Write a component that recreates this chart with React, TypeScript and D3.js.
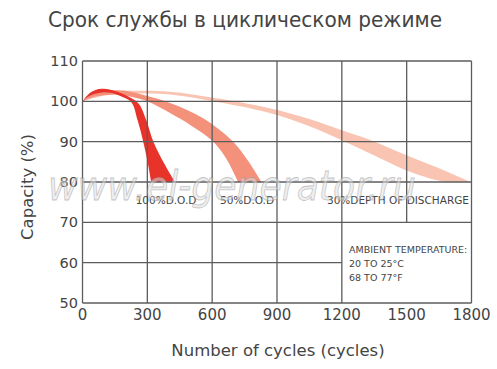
import React from "react";
import * as d3 from "d3";

const title = "Срок службы в циклическом режиме";
const xTicks = [0, 300, 600, 900, 1200, 1500, 1800];
const yTicks = [50, 60, 70, 80, 90, 100, 110];

// band edges: [cycles, capacity %]
const dod100Outer: [number, number][] = [[0, 100], [30, 101.9], [60, 102.8], [90, 103.1], [130, 102.9], [180, 102], [225, 100.8], [262, 99.3], [296, 95.2], [328, 90], [380, 84.4], [428, 80]];
const dod100Inner: [number, number][] = [[0, 100], [40, 101.5], [90, 102.2], [130, 102.1], [175, 101.3], [226, 99.8], [255, 95.3], [281, 90], [301, 85], [318, 80]];
const dod50Outer: [number, number][] = [[0, 100], [50, 101.8], [100, 102.5], [150, 102.75], [200, 102.6], [300, 101.3], [405, 99.6], [558, 95.8], [697, 90], [765, 85.3], [828, 80]];
const dod50Inner: [number, number][] = [[0, 100], [60, 101.2], [150, 101.7], [220, 101.2], [300, 100], [405, 97.1], [500, 94.1], [605, 90], [665, 85.8], [720, 80]];
const dod30Outer: [number, number][] = [[0, 100], [60, 101.8], [120, 102.4], [250, 102.6], [405, 102.4], [605, 100.9], [866, 98.3], [1050, 95.6], [1197, 92.9], [1328, 90.5], [1497, 86.7], [1650, 83.4], [1795, 80]];
const dod30Inner: [number, number][] = [[0, 100], [100, 101.4], [250, 101.9], [405, 101.7], [605, 100], [866, 97.1], [1050, 93.8], [1197, 90.4], [1328, 87.1], [1497, 82.9], [1600, 81], [1682, 80]];

const bandColors = ["#f9c4b2", "#f3917b", "#e8332b"];
const bandLabels = ["30%DEPTH OF DISCHARGE", "50%D.O.D", "100%D.O.D"];
const ambientLines = ["AMBIENT TEMPERATURE:", "20 TO 25°C", "68 TO 77°F"];

const W = 497, H = 369;
const x = d3.scaleLinear().domain([0, 1800]).range([82.5, 471.5]);
const y = d3.scaleLinear().domain([50, 110]).range([303, 61]);

const line = d3.line<[number, number]>().x(d => x(d[0])).y(d => y(d[1])).curve(d3.curveCatmullRom.alpha(0.5));

function bandPath(outer: [number, number][], inner: [number, number][]) {
  const a = line(outer) || "";
  const b = (line([...inner].reverse()) || "").replace(/^M/, "L");
  return a + b + "Z";
}

const font = "'DejaVu Sans', sans-serif";
const txt = "#444";
const grid = "#5c5c5c";

export default function App() {
  const bands = [
    { o: dod30Outer, i: dod30Inner },
    { o: dod50Outer, i: dod50Inner },
    { o: dod100Outer, i: dod100Inner },
  ];
  return (
    <svg width={W} height={H} style={{ position: "absolute", left: 0, top: 0, background: "#fff" }} fontFamily={font}>
      <text x={48} y={27} fontSize={20.5} fill={txt} textLength={394} lengthAdjust="spacingAndGlyphs">{title}</text>
      {bands.map((b, k) => (
        <path key={k} d={bandPath(b.o, b.i)} fill={bandColors[k]} stroke="none" />
      ))}
      <g stroke={grid} strokeWidth={1.3} fill="none">
        {yTicks.map(v => {
          const x2 = v === 60 ? x(1200) : x(1800);
          return <line key={"h" + v} x1={x(0)} x2={x2} y1={y(v)} y2={y(v)} />;
        })}
        {xTicks.map(c => {
          const yb = c === 1500 ? y(70) : y(50);
          return <line key={"v" + c} x1={x(c)} x2={x(c)} y1={y(110)} y2={yb} />;
        })}
      </g>
      {yTicks.map(v => (
        <text key={"yl" + v} x={78} y={y(v) + 5} fontSize={14.5} fill={txt} textAnchor="end">{v}</text>
      ))}
      {xTicks.map(c => (
        <text key={"xl" + c} x={x(c)} y={320} fontSize={15} fill={txt} textAnchor="middle">{c}</text>
      ))}
      <text x={278} y={356} fontSize={16.5} fill={txt} textAnchor="middle">Number of cycles (cycles)</text>
      <text transform="translate(33,187) rotate(-90)" fontSize={16.5} fill={txt} textAnchor="middle">Capacity (%)</text>
      <text x={166} y={204} fontSize={10.5} fill={txt} textAnchor="middle">{bandLabels[2]}</text>
      <text x={247} y={204} fontSize={10.5} fill={txt} textAnchor="middle">{bandLabels[1]}</text>
      <text x={398} y={204} fontSize={10.5} fill={txt} textAnchor="middle">{bandLabels[0]}</text>
      {ambientLines.map((s, k) => (
        <text key={"a" + k} x={349} y={253 + k * 14} fontSize={9.5} fill={txt}>{s}</text>
      ))}
      <text x={48} y={200} fontSize={40} fontStyle="italic" fill="#e0e0e0" fillOpacity={0.55} stroke="#909090" strokeOpacity={0.5} strokeWidth={0.8} textLength={368} lengthAdjust="spacingAndGlyphs">www.el-generator.ru</text>
    </svg>
  );
}
